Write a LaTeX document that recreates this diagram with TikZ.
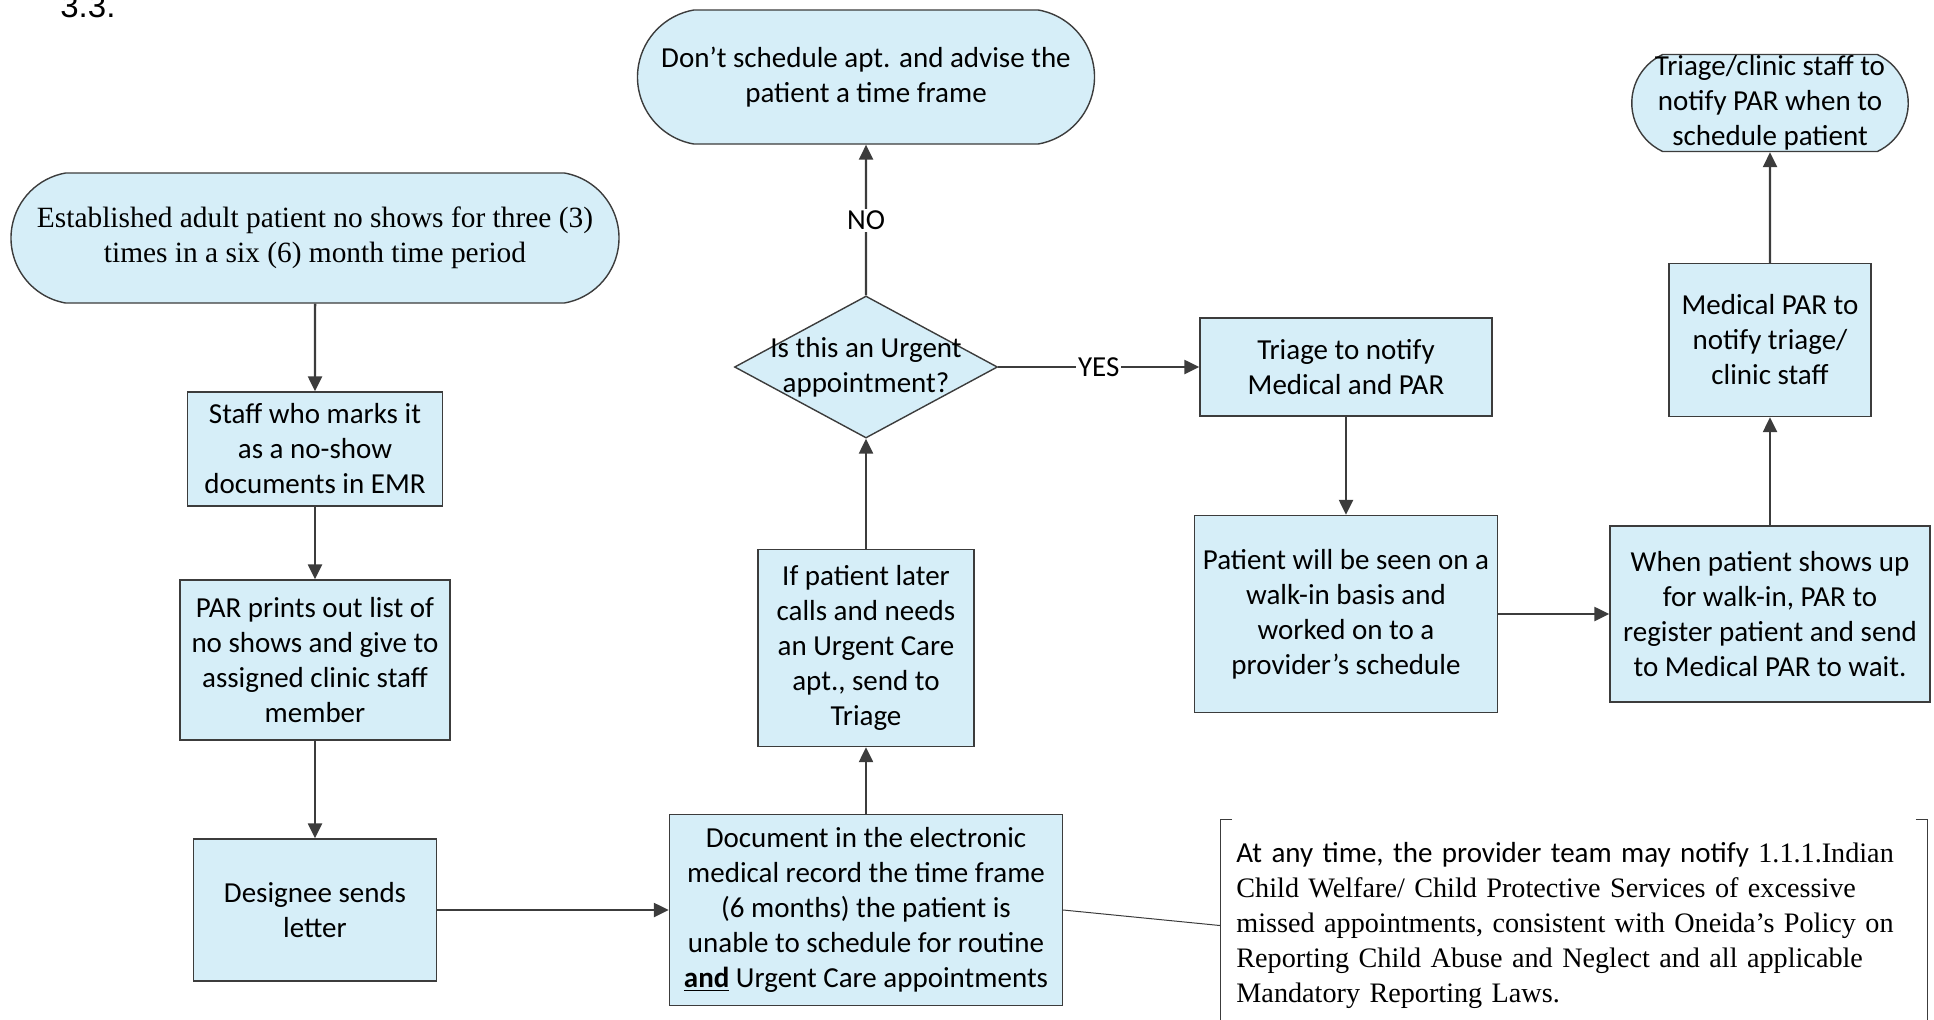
\documentclass[tikz,border=0pt]{standalone}
\usepackage{fontspec}
\setmainfont{Carlito}
\newfontfamily\timesfam{Liberation Serif}
\newfontfamily\arialfam{Liberation Sans}
\usepackage{tikz}
\usetikzlibrary{arrows.meta,positioning,shapes.geometric,shapes.misc}
\definecolor{flowfill}{HTML}{D6EEF8}
\definecolor{flowline}{HTML}{3C3C3C}
\tikzset{
  fbox/.style={draw=flowline,fill=flowfill,line width=0.7pt,align=center,inner sep=0pt,
    font=\fontsize{14.5}{17.5}\selectfont},
  fterm/.style={fbox,rounded rectangle,rounded rectangle arc length=#1,inner xsep=-20pt},
  fterm/.default=160,
  fdec/.style={draw=flowline,fill=flowfill,line width=0.7pt,diamond,inner sep=0pt},
  ftext/.style={align=center,inner sep=0pt,font=\fontsize{14.5}{17.5}\selectfont},
  farr/.style={-{Triangle[length=7.5pt,width=7pt]},line width=1.2pt,draw=flowline},
  fline/.style={line width=0.5pt,draw=flowline},
  ftag/.style={fill=white,inner sep=1pt,font=\fontsize{14.5}{16}\selectfont},
  fnote/.style={align=left,inner xsep=0pt,inner ysep=11.5pt,text width=345.5pt,
    font=\timesfam\fontsize{14.1}{17.5}\selectfont}
}
\begin{document}
\begin{tikzpicture}[x=0.5pt,y=-0.5pt]
  \useasboundingbox (0,0) rectangle (1934,1019);
  \node[anchor=base west,inner sep=0pt,font=\arialfam\fontsize{16.5}{20}\selectfont] (secno) at (60,17) {3.3.};
  % left column
  \node[fterm,minimum width=264pt,minimum height=65pt,font=\timesfam\fontsize{14.7}{17.5}\selectfont] (start) at (315,238)
     {Established adult patient no shows for three (3)\\ times in a six (6) month time period};
  \node[fbox,minimum width=127.5pt,minimum height=57pt] (staff) at (315,449) {Staff who marks it\\ as a no-show\\ documents in EMR};
  \node[fbox,minimum width=135pt,minimum height=80pt] (prints) at (315,660) {PAR prints out list of\\ no shows and give to\\ assigned clinic staff\\ member};
  \node[fbox,minimum width=121.5pt,minimum height=71pt] (letter) at (315,910) {Designee sends\\ letter};
  % middle column
  \node[fbox,minimum width=196.5pt,minimum height=95.5pt] (record) at (866,910) {Document in the electronic\\ medical record the time frame\\ (6 months) the patient is\\ unable to schedule for routine\\ \underline{\textbf{and}} Urgent Care appointments};
  \node[fbox,minimum width=108pt,minimum height=98.5pt] (later) at (866,648) {If patient later\\ calls and needs\\ an Urgent Care\\ apt., send to\\ Triage};
  \node[fdec,minimum width=131.5pt,minimum height=71pt] (urgent) at (866,367) {};
  \node[ftext] (urgentq) at (urgent) {Is this an Urgent\\ appointment?};
  \node[fterm,minimum width=188.5pt,minimum height=67pt] (noapt) at (866,77) {Don’t schedule apt. and advise the\\ patient a time frame};
  % right side
  \node[fbox,minimum width=146pt,minimum height=49pt] (triage) at (1346,367) {Triage to notify\\ Medical and PAR};
  \node[fbox,minimum width=151.5pt,minimum height=98.5pt] (walkin) at (1346,614) {Patient will be seen on a\\ walk-in basis and\\ worked on to a\\ provider’s schedule};
  \node[fbox,minimum width=160pt,minimum height=88pt] (register) at (1770,614) {When patient shows up\\ for walk-in, PAR to\\ register patient and send\\ to Medical PAR to wait.};
  \node[fbox,minimum width=101pt,minimum height=76.5pt] (medpar) at (1770,340) {Medical PAR to\\ notify triage/\\ clinic staff};
  \node[fterm=130,inner xsep=-2.75pt,minimum height=48.5pt] (notify) at (1770,103) {Triage/clinic staff to\\ notify PAR when to\\ schedule patient};
  \node[fnote,anchor=north west] (note) at (1236,819) {{\normalfont\fontsize{14.5}{17.5}\selectfont At any time, the provider team may notify} 1.1.1.Indian\\
     Child Welfare/ Child Protective Services of excessive\\
     missed appointments, consistent with Oneida’s Policy on\\
     Reporting Child Abuse and Neglect and all applicable\\
     Mandatory Reporting Laws.};
  % connectors
  \draw[farr] (start) -- (staff);
  \draw[farr] (staff) -- (prints);
  \draw[farr] (prints) -- (letter);
  \draw[farr] (letter) -- (record);
  \draw[farr] (record) -- (later);
  \draw[farr] (later) -- (urgent);
  \draw[farr] (urgent) -- node[ftag] (nolbl) {NO} (noapt);
  \draw[farr] (urgent) -- node[ftag] (yeslbl) {YES} (triage);
  \draw[farr] (triage) -- (walkin);
  \draw[farr] (walkin) -- (register);
  \draw[farr] (register) -- (medpar);
  \draw[farr] (medpar) -- (notify);
  \draw[fline] (record.east) -- ([xshift=-8pt]note.west);
  \draw[fline] ([xshift=-2pt]note.north west) -- ([xshift=-8pt]note.north west) -- ([xshift=-8pt]note.south west);
  \draw[fline] ([xshift=-6pt]note.north east) -- (note.north east) -- (note.south east);
\end{tikzpicture}
\end{document}
